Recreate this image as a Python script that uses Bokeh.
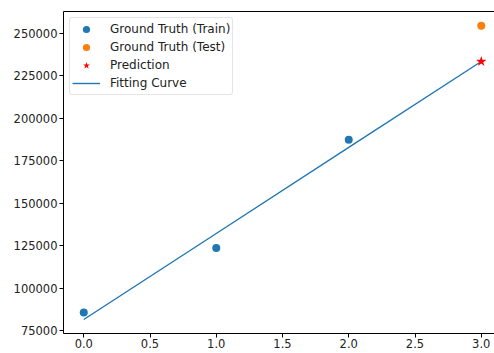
from bokeh.plotting import figure
from bokeh.models import Range1d, FixedTicker, PrintfTickFormatter, NumeralTickFormatter, Legend, LegendItem, LinearAxis
from bokeh.embed import file_html
from bokeh.resources import INLINE

# Data
train_x = [0, 1, 2]
train_y = [85800, 123700, 187300]
test_x = [3]
test_y = [254300]
pred_x = [3]
pred_y = [233300]
fit_x = [0, 1, 2, 3]
fit_y = [81700, 132250, 182800, 233300]
x_ticks = [0.0, 0.5, 1.0, 1.5, 2.0, 2.5, 3.0]
y_ticks = [75000, 100000, 125000, 150000, 175000, 200000, 225000, 250000]

FONT = "DejaVu Sans"

p = figure(width=494, height=353, output_backend="svg", toolbar_location=None,
           x_range=Range1d(-0.153, 3.10), y_range=Range1d(73475, 262670),
           min_border_left=63, min_border_right=0, min_border_top=11, min_border_bottom=20)
p.background_fill_color = "white"
p.border_fill_color = "white"
p.outline_line_color = None
p.xgrid.visible = False
p.ygrid.visible = False

for ax in (p.xaxis[0], p.yaxis[0]):
    ax.major_tick_in = 0
    ax.major_tick_out = 4
    ax.minor_tick_line_color = None
    ax.axis_line_color = "black"
    ax.axis_line_width = 1
    ax.major_tick_line_color = "black"
    ax.major_label_text_font = FONT
    ax.major_label_text_font_size = "11.5px"
    ax.major_label_text_color = "#222222"

p.xaxis.ticker = FixedTicker(ticks=x_ticks)
p.xaxis.formatter = PrintfTickFormatter(format="%.1f")
p.xaxis.major_label_standoff = 1
p.yaxis.ticker = FixedTicker(ticks=y_ticks)
p.yaxis.formatter = NumeralTickFormatter(format="0")
p.yaxis.major_label_standoff = 2

top_axis = LinearAxis(ticker=FixedTicker(ticks=[]), axis_line_color="black", axis_line_width=1,
                      major_tick_line_color=None, minor_tick_line_color=None,
                      major_label_text_font_size="0px", major_tick_out=0, major_tick_in=0,
                      major_label_standoff=0)
p.add_layout(top_axis, "above")

r_fit = p.line(fit_x, fit_y, line_color="#1f77b4", line_width=1.4)
r_train = p.scatter(train_x, train_y, marker="circle", size=8, fill_color="#1f77b4", line_color=None)
r_test = p.scatter(test_x, test_y, marker="circle", size=8, fill_color="#ff7f0e", line_color=None)
r_pred = p.scatter(pred_x, pred_y, marker="star", size=11, fill_color="red", line_color=None)

legend = Legend(items=[
    LegendItem(label="Ground Truth (Train)", renderers=[r_train]),
    LegendItem(label="Ground Truth (Test)", renderers=[r_test]),
    LegendItem(label="Prediction", renderers=[r_pred]),
    LegendItem(label="Fitting Curve", renderers=[r_fit]),
], location="top_left")
legend.margin = 6
legend.padding = 2
legend.spacing = 0
legend.glyph_height = 18
legend.label_height = 18
legend.glyph_width = 28
legend.label_standoff = 10
legend.label_text_font = FONT
legend.label_text_font_size = "12px"
legend.label_text_color = "#222222"
legend.border_line_color = "#cccccc"
legend.border_line_width = 1
legend.border_radius = 3
legend.background_fill_alpha = 0.8
p.add_layout(legend)

open("out.html", "w").write(file_html(p, INLINE))
